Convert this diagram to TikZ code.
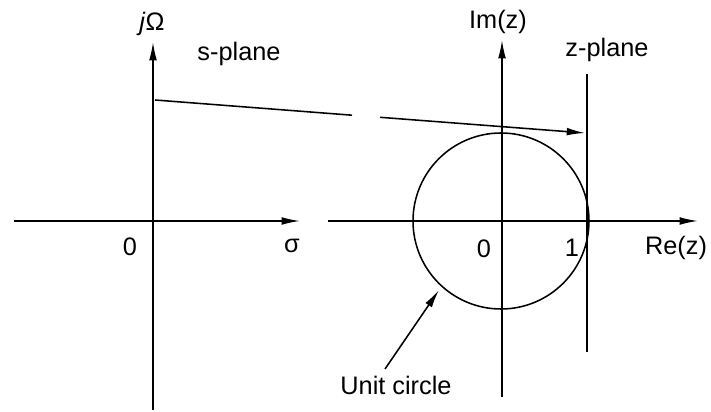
\documentclass[tikz,border=0pt]{standalone}
\usepackage{fontspec}
\setmainfont{Liberation Sans}
\usepackage{tikz}
\usetikzlibrary{arrows.meta}

\begin{document}
\begin{tikzpicture}[x=0.025cm,y=-0.025cm]
    \tikzset{axis/.style = {line width=1.1pt}}
    \tikzset{edge/.style = {->,> = {Latex[length=13pt,width=5.5pt]},line width=1.1pt}}
    \tikzset{lbl/.style = {shape=rectangle,draw=none,inner sep=0pt,font=\fontsize{18}{20}\selectfont}}

    \useasboundingbox (0,0) rectangle (711,412);

    % s-plane axes
    \coordinate (s0) at (153,221);
    \coordinate (sl) at (14,221);
    \coordinate (sr) at (300,221);
    \coordinate (st) at (153,42);
    \coordinate (sb) at (153,410);
    \draw[edge] (sl) -- (sr);
    \draw[edge] (sb) -- (st);

    % z-plane axes
    \coordinate (z0) at (501,221);
    \coordinate (zl) at (328,221);
    \coordinate (zr) at (698,221);
    \coordinate (zt) at (502,40);
    \coordinate (zb) at (502,397);
    \draw[edge] (zl) -- (zr);
    \draw[edge] (zb) -- (zt);
    \coordinate (vt) at (587,74);
    \coordinate (vb) at (587,352);
    \draw[axis] (vt) -- (vb);
    \draw[axis] (z0) circle (88);

    % labels
    \node[lbl] (jw) at (152,24) {\textit{j}Ω};
    \node[lbl] (sp) at (239,54) {s-plane};
    \node[lbl] (so) at (130,247) {0};
    \node[lbl] (sg) at (292,246) {σ};
    \node[lbl] (im) at (498,22) {Im(z)};
    \node[lbl] (zp) at (607,50) {z-plane};
    \node[lbl] (zo) at (484,249) {0};
    \node[lbl] (one) at (572,248) {1};
    \node[lbl] (re) at (676,248) {Re(z)};
    \node[lbl] (ucl) at (396,385) {Unit circle};

    % mapping of the j axis
    \coordinate (ma) at (155,100);
    \coordinate (mb) at (352,115.2);
    \coordinate (mc) at (380,117.3);
    \coordinate (md) at (585,133);
    \draw[axis] (ma) -- (mb);
    \draw[edge] (mc) -- (md);

    % pointer to the circle
    \coordinate (ut) at (385,369);
    \coordinate (uh) at (439,290);
    \draw[edge] (ut) -- (uh);
\end{tikzpicture}
\end{document}
